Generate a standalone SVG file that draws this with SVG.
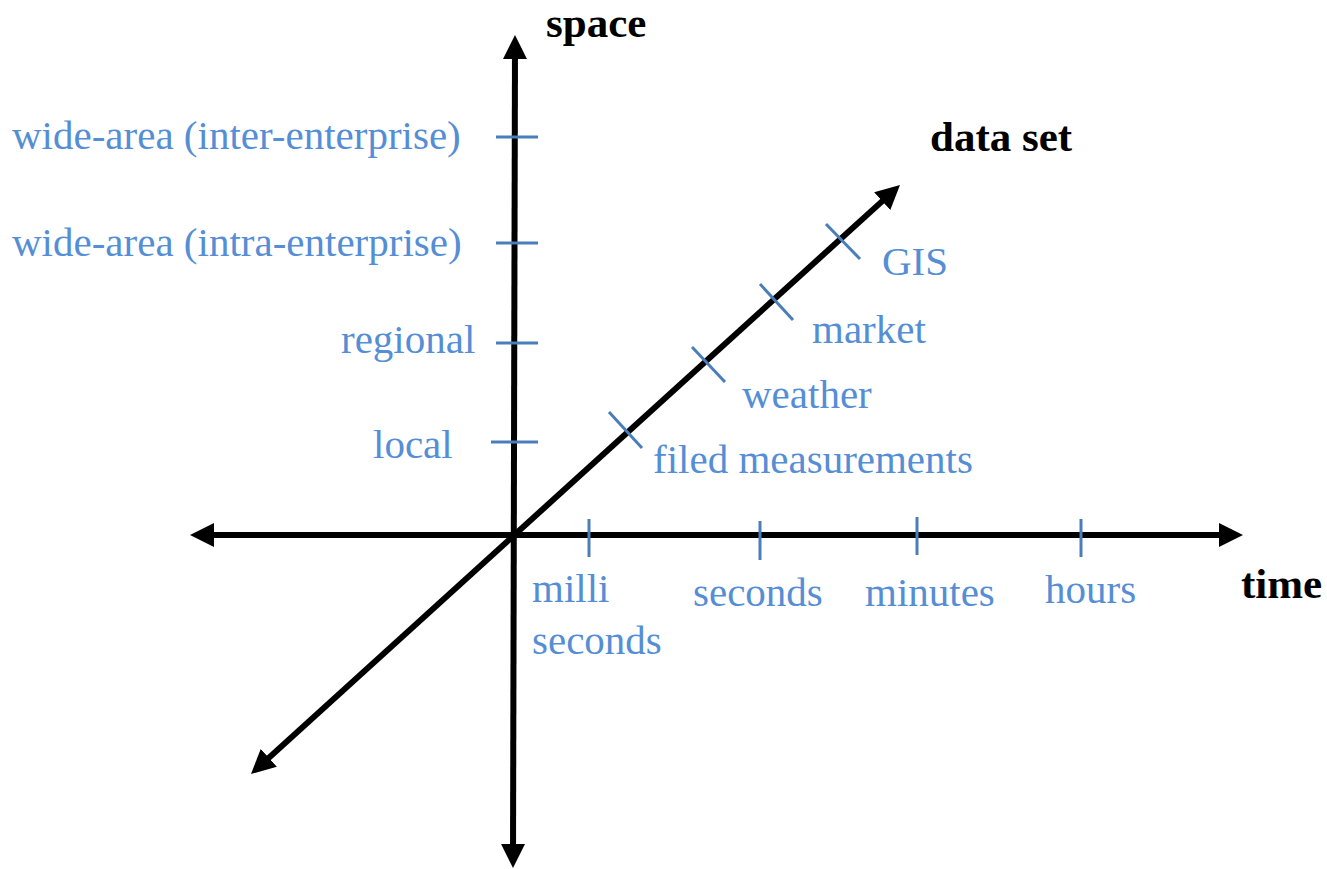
<svg xmlns="http://www.w3.org/2000/svg" width="1327" height="869" viewBox="0 0 1327 869">
<style>
.axis{stroke:#000;stroke-width:6;fill:none;marker-start:url(#ah);marker-end:url(#ah)}
.tick{stroke:#4A7EBB;stroke-width:3}
.lbl{font-family:"Liberation Serif","Times New Roman",serif;font-size:41px;fill:#558ED5}
.title{font-family:"Liberation Serif","Times New Roman",serif;font-size:43px;font-weight:bold;fill:#000}
</style>
<defs>
<marker id="ah" markerUnits="userSpaceOnUse" markerWidth="24" markerHeight="24" refX="12" refY="12" orient="auto-start-reverse" viewBox="0 0 24 24">
<path d="M0,0 L24,12 L0,24 z" fill="#000"/>
</marker>
</defs>
<rect width="1327" height="869" fill="#fff"/>
<g id="connectors">
<line id="space-axis" class="axis" x1="513" y1="856" x2="515" y2="47"/>
<line id="time-axis" class="axis" x1="202" y1="535" x2="1231" y2="535"/>
<line id="dataset-axis" class="axis" x1="259.9" y1="765.9" x2="891.1" y2="193.1"/>
</g>
<g id="ticks">
<line class="tick" x1="496" y1="137" x2="538" y2="137"/>
<line class="tick" x1="496" y1="243" x2="538" y2="243"/>
<line class="tick" x1="496" y1="343" x2="538" y2="343"/>
<line class="tick" x1="491" y1="442" x2="538" y2="442"/>
<line class="tick" x1="589" y1="519" x2="589" y2="557"/>
<line class="tick" x1="760" y1="521" x2="760" y2="560"/>
<line class="tick" x1="917" y1="517" x2="917" y2="555"/>
<line class="tick" x1="1081" y1="519" x2="1081" y2="557"/>
<line class="tick" x1="609" y1="412" x2="642" y2="448"/>
<line class="tick" x1="692" y1="347" x2="725" y2="382"/>
<line class="tick" x1="760" y1="284" x2="793" y2="320"/>
<line class="tick" x1="826" y1="224" x2="860" y2="259"/>
</g>
<g id="space-title"><text class="title" x="546" y="37">space</text></g>
<g id="dataset-title"><text class="title" x="930" y="151">data set</text></g>
<g id="time-title"><text class="title" x="1241" y="598">time</text></g>
<g id="space-labels">
<text class="lbl" x="12" y="149">wide-area (inter-enterprise)</text>
<text class="lbl" x="12" y="256">wide-area (intra-enterprise)</text>
<text class="lbl" x="341" y="353">regional</text>
<text class="lbl" x="373" y="458">local</text>
</g>
<g id="time-labels">
<text class="lbl" x="532" y="602">milli</text>
<text class="lbl" x="532" y="654">seconds</text>
<text class="lbl" x="693" y="606">seconds</text>
<text class="lbl" x="865" y="606">minutes</text>
<text class="lbl" x="1045" y="603">hours</text>
</g>
<g id="dataset-labels">
<text class="lbl" x="882" y="275">GIS</text>
<text class="lbl" x="812" y="343">market</text>
<text class="lbl" x="742" y="408">weather</text>
<text class="lbl" x="653" y="473">filed measurements</text>
</g>
</svg>
